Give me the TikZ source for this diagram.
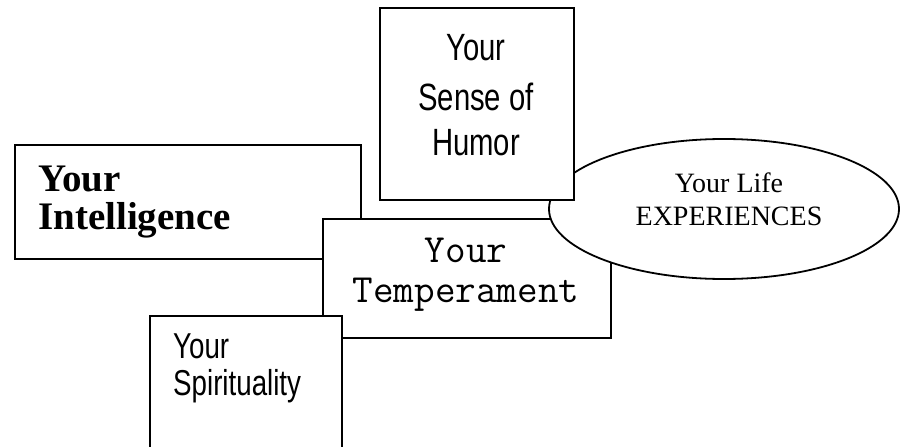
\documentclass[tikz,border=0pt]{standalone}
\usepackage{fontspec}
\usetikzlibrary{shapes.geometric}
\newfontfamily\narrowsans[FakeStretch=0.77]{Liberation Sans}
\newfontfamily\serifbold{Liberation Serif}
\begin{document}
\begin{tikzpicture}[x=1pt,y=1pt]
          \tikzstyle{box}=[draw,line width=1.8pt,fill=white,inner sep=0pt,anchor=north west];
          \tikzstyle{txt}=[inner sep=0pt];
          \clip (0,0) rectangle (900,-447);
          %\node (name) at (x,-y) [box,minimum width=w,minimum height=h] {};
          \node (intel) at (14,-144) [box,minimum width=346,minimum height=114] {};
          \node (intel1) at (38,-191) [txt,anchor=base west] {\serifbold\bfseries\fontsize{39}{39}\selectfont Your};
          \node (intel2) at (38,-229) [txt,anchor=base west] {\serifbold\bfseries\fontsize{39}{39}\selectfont Intelligence};
          \node (temper) at (322,-218) [box,minimum width=288,minimum height=119] {};
          \node (temper1) at (466,-262) [txt,anchor=base] {\ttfamily\fontsize{40}{40}\selectfont Your};
          \node (temper2) at (466,-302) [txt,anchor=base] {\ttfamily\fontsize{40}{40}\selectfont Temperament};
          \node (life) at (724,-209) [draw,ellipse,line width=1.8pt,fill=white,inner sep=0pt,minimum width=350,minimum height=140] {};
          \node (life1) at (729,-192) [txt,anchor=base] {\serifbold\fontsize{28}{28}\selectfont Your Life};
          \node (life2) at (729,-225) [txt,anchor=base] {\serifbold\fontsize{28}{28}\selectfont EXPERIENCES};
          \node (humor) at (379,-7) [box,minimum width=194,minimum height=192] {};
          \node (humor1) at (476,-60) [txt,anchor=base] {\narrowsans\fontsize{38}{38}\selectfont Your};
          \node (humor2) at (476,-110) [txt,anchor=base] {\narrowsans\fontsize{38}{38}\selectfont Sense of};
          \node (humor3) at (476,-155) [txt,anchor=base] {\narrowsans\fontsize{38}{38}\selectfont Humor};
          \node (spirit) at (149,-315) [box,minimum width=192,minimum height=150] {};
          \node (spirit1) at (173,-358) [txt,anchor=base west] {\narrowsans\fontsize{36}{36}\selectfont Your};
          \node (spirit2) at (173,-395) [txt,anchor=base west] {\narrowsans\fontsize{36}{36}\selectfont Spirituality};
      \end{tikzpicture}
\end{document}
